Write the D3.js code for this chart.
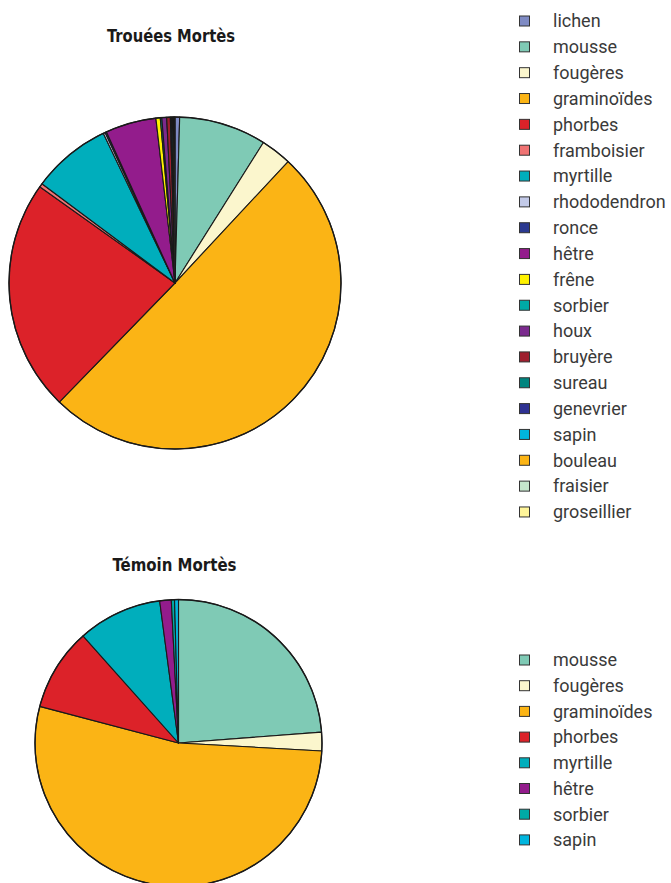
<!DOCTYPE html>
<html>
<head>
<meta charset="utf-8">
<script src="https://cdn.jsdelivr.net/npm/d3@7"></script>
<style>
  html, body { margin: 0; padding: 0; background: #fff; }
  svg { display: block; }
  .title { font-family: "Liberation Sans Narrow", "DejaVu Sans Condensed", "Arial Narrow", sans-serif; font-weight: bold; font-size: 18px; fill: #1a1a1a; }
  .legend text { font-family: Roboto, "Liberation Sans", sans-serif; font-size: 18px; fill: #3a3a3a; }
</style>
</head>
<body>
<script>
// Species and their colours
const species = ["lichen", "mousse", "fougères", "graminoïdes", "phorbes", "framboisier",
  "myrtille", "rhododendron", "ronce", "hêtre", "frêne", "sorbier", "houx", "bruyère",
  "sureau", "genevrier", "sapin", "bouleau", "fraisier", "groseillier"];
const speciesColors = ["#7f8bc4", "#7fcab5", "#fbf6cd", "#fbb415", "#dc2229", "#f07373",
  "#00aebc", "#c3cae8", "#2b3990", "#931c8c", "#fff200", "#00aaa6", "#7b2a8e", "#9e1f2e",
  "#00857f", "#2e3192", "#00b5de", "#fbb415", "#c5e5cc", "#fff59a"];

// Trouées Mortès: cover share (%) per species
const troueesValues = [0.45, 8.5, 3.0, 50.4, 22.6, 0.35, 7.7, 0.2, 0.13, 4.95, 0.42, 0.15,
  0.47, 0.35, 0.1, 0.1, 0.1, 0.05, 0.05, 0.05];

// Témoin Mortès: cover share (%) per species
const temoinSpecies = ["mousse", "fougères", "graminoïdes", "phorbes", "myrtille", "hêtre", "sorbier", "sapin"];
const temoinValues = [23.8, 2.1, 53.25, 9.3, 9.5, 1.3, 0.36, 0.44];

const color = d3.scaleOrdinal().domain(species).range(speciesColors);

const W = 671, H = 883;
const svg = d3.select("body").append("svg").attr("width", W).attr("height", H);

function drawPie(names, values, cx, cy, r) {
  const data = names.map((n, i) => ({ name: n, value: values[i] }));
  const pie = d3.pie().value(d => d.value).sort(null);
  const arc = d3.arc().innerRadius(0).outerRadius(r);
  const g = svg.append("g").attr("transform", `translate(${cx},${cy})`);
  g.selectAll("path.slice").data(pie(data)).join("path")
    .attr("class", "slice")
    .attr("d", arc)
    .attr("fill", d => color(d.data.name))
    .attr("stroke", "#1a1a1a")
    .attr("stroke-width", 1.1)
    .attr("stroke-linejoin", "round");
  g.append("circle").attr("r", r).attr("fill", "none")
    .attr("stroke", "#1a1a1a").attr("stroke-width", 1.4);
}

function drawLegend(names, x, y0, step) {
  const g = svg.append("g").attr("class", "legend");
  const items = g.selectAll("g").data(names).join("g")
    .attr("transform", (d, i) => `translate(${x},${y0 + i * step})`);
  items.append("rect").attr("x", 0.5).attr("y", -5).attr("width", 10).attr("height", 10)
    .attr("fill", d => color(d)).attr("stroke", "#333").attr("stroke-width", 1);
  items.append("text").attr("x", 34).attr("y", 0).attr("dy", "0.35em").text(d => d);
}

function title(text, x, y, width) {
  svg.append("text").attr("class", "title").attr("x", x).attr("y", y)
    .attr("text-anchor", "middle")
    .attr("textLength", width).attr("lengthAdjust", "spacingAndGlyphs")
    .text(text);
}

title("Trouées Mortès", 171, 42, 128);
title("Témoin Mortès", 174.5, 571, 124);

drawPie(species, troueesValues, 175, 283, 166);
drawPie(temoinSpecies, temoinValues, 178.5, 743, 143.5);

drawLegend(species, 519, 21, 25.84);
drawLegend(temoinSpecies, 519, 660, 25.7);
</script>
</body>
</html>
